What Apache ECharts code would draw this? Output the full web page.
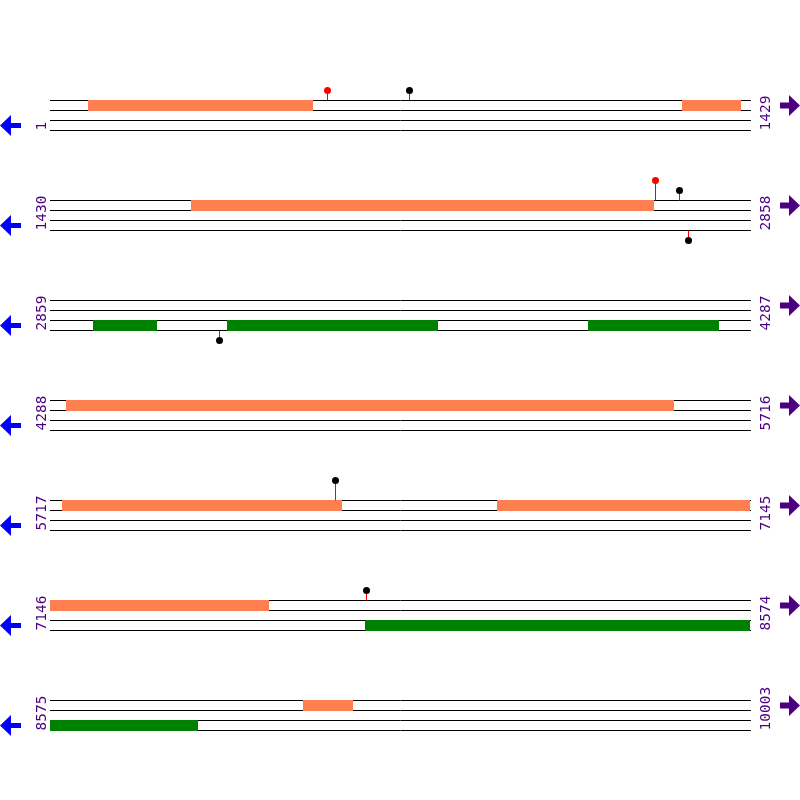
<!DOCTYPE html>
<html><head><meta charset="utf-8">
<script src="https://cdn.jsdelivr.net/npm/echarts@6/dist/echarts.min.js"></script>
<style>html,body{margin:0;padding:0;background:#fff}#c{width:800px;height:800px}</style>
</head><body><div id="c"></div>
<script>
// Row ranges (bases)
const rowStarts = [1, 1430, 2859, 4288, 5717, 7146, 8575];
const rowEnds = [1429, 2858, 4287, 5716, 7145, 8574, 10003];
// Features on forward band (orange) and reverse band (green): [start, end]
const orangeFeatures = [[79, 538], [1290, 1411], [1718, 2662], [4321, 5561], [5741, 6313], [6629, 7145], [7146, 7593], [9091, 9193]];
const greenFeatures = [[2946, 3077], [3220, 3651], [3957, 4224], [7789, 8574], [8575, 8877]];
// Sites (lollipops)
const sitePositions = [566, 733, 2664, 2713, 2732, 3204, 6298, 7791];
const siteHeights = [1, 1, 2, 1, 1, 1, 2, 1];
const siteSides = ['top', 'top', 'top', 'top', 'bottom', 'bottom', 'top', 'top'];
const siteColors = ['#FF0000', '#000000', '#FF0000', '#000000', '#000000', '#000000', '#000000', '#000000'];
const trackLevels = [0, 1, 2, 3];

const ORANGE = '#FF7F50', GREEN = '#008000', LABEL = '#4B0082', LEFT_ARROW = '#0000FF';

const chart = echarts.init(document.getElementById('c'), null, {renderer: 'canvas'});
const grids = [], xAxes = [], yAxes = [], series = [];
const R = Math.round;

rowStarts.forEach((rs, i) => {
  const re = rowEnds[i];
  grids.push({left: 50, width: 700, top: 80 + 100 * i, height: 60});
  xAxes.push({type: 'value', gridIndex: i, min: rs, max: re, show: false});
  yAxes.push({type: 'value', gridIndex: i, min: -2, max: 4, inverse: true, show: false});
  // track lines
  series.push({
    type: 'custom', xAxisIndex: i, yAxisIndex: i, silent: true, z: 1,
    data: trackLevels.map(k => [rs, re, k]),
    renderItem: (params, api) => {
      const a = api.coord([api.value(0), api.value(2)]);
      const b = api.coord([api.value(1), api.value(2)]);
      const y = R(a[1]) + 0.5;
      return {type: 'line', shape: {x1: R(a[0]), y1: y, x2: R(b[0]) + 1, y2: y},
        style: {stroke: '#000', lineWidth: 1}};
    }
  });
  // bars
  const clip = (f) => [Math.max(f[0], rs), Math.min(f[1], re)];
  const inRow = (f) => f[1] >= rs && f[0] <= re;
  const bars = [];
  orangeFeatures.filter(inRow).forEach(f => { const c = clip(f); bars.push([c[0], c[1], 0, 0]); });
  greenFeatures.filter(inRow).forEach(f => { const c = clip(f); bars.push([c[0], c[1], 2, 1]); });
  series.push({
    type: 'custom', xAxisIndex: i, yAxisIndex: i, silent: true, z: 2,
    data: bars,
    renderItem: (params, api) => {
      const lvl = api.value(2);
      const a = api.coord([api.value(0), lvl]);
      const b = api.coord([api.value(1), lvl + 1]);
      const x0 = R(a[0]), y0 = R(a[1]);
      return {type: 'rect', shape: {x: x0, y: y0, width: R(b[0]) - x0, height: R(b[1]) - y0 + 1},
        style: {fill: api.value(3) === 0 ? ORANGE : GREEN}};
    }
  });
  // sites
  const sites = [];
  sitePositions.forEach((p, j) => {
    if (p >= rs && p <= re) sites.push([p, siteHeights[j], siteSides[j] === 'top' ? 0 : 1, j]);
  });
  series.push({
    type: 'custom', xAxisIndex: i, yAxisIndex: i, silent: true, z: 3,
    data: sites,
    renderItem: (params, api) => {
      const h = api.value(1), side = api.value(2), j = api.value(3);
      const base = side === 0 ? 0 : 3;
      const tip = side === 0 ? -h : 3 + h;
      const a = api.coord([api.value(0), base]);
      const b = api.coord([api.value(0), tip]);
      const x = R(a[0]) + 0.5;
      return {type: 'group', children: [
        {type: 'line', shape: {x1: x, y1: R(a[1]) + 0.5, x2: x, y2: R(b[1]) + 0.5}, style: {stroke: '#FF0000', lineWidth: 1}},
        {type: 'circle', shape: {cx: x, cy: R(b[1]) + 0.5, r: 3.5}, style: {fill: siteColors[j]}}
      ]};
    }
  });
});

chart.setOption({animation: false, grid: grids, xAxis: xAxes, yAxis: yAxes, series: series});

// labels and arrows, positioned from the axes
const graphics = [];
rowStarts.forEach((rs, i) => {
  const re = rowEnds[i];
  const bottom = chart.convertToPixel({gridIndex: i}, [rs, 3]);
  const top = chart.convertToPixel({gridIndex: i}, [re, 0]);
  const yb = R(bottom[1]) + 0.5;
  graphics.push({type: 'text', x: 42, y: yb, rotation: Math.PI / 2,
    style: {text: String(rs), fill: LABEL, font: '14.5px "DejaVu Sans Mono"', align: 'left', verticalAlign: 'middle', textAlign: 'left', textVerticalAlign: 'middle'}});
  graphics.push({type: 'text', x: 766, y: yb, rotation: Math.PI / 2,
    style: {text: String(re), fill: LABEL, font: '14.5px "DejaVu Sans Mono"', align: 'left', verticalAlign: 'middle', textAlign: 'left', textVerticalAlign: 'middle'}});
  const cyL = yb - 5;
  graphics.push({type: 'polygon', shape: {points: [[0, cyL], [11, cyL - 10.5], [11, cyL - 2.5], [21, cyL - 2.5], [21, cyL + 2.5], [11, cyL + 2.5], [11, cyL + 10.5]]},
    style: {fill: LEFT_ARROW}});
  const cyR = R(top[1]) + 5.5;
  graphics.push({type: 'polygon', shape: {points: [[800, cyR], [789, cyR - 10.5], [789, cyR - 3], [780, cyR - 3], [780, cyR + 3], [789, cyR + 3], [789, cyR + 10.5]]},
    style: {fill: LABEL}});
});
chart.setOption({graphic: graphics});
</script>
</body></html>
